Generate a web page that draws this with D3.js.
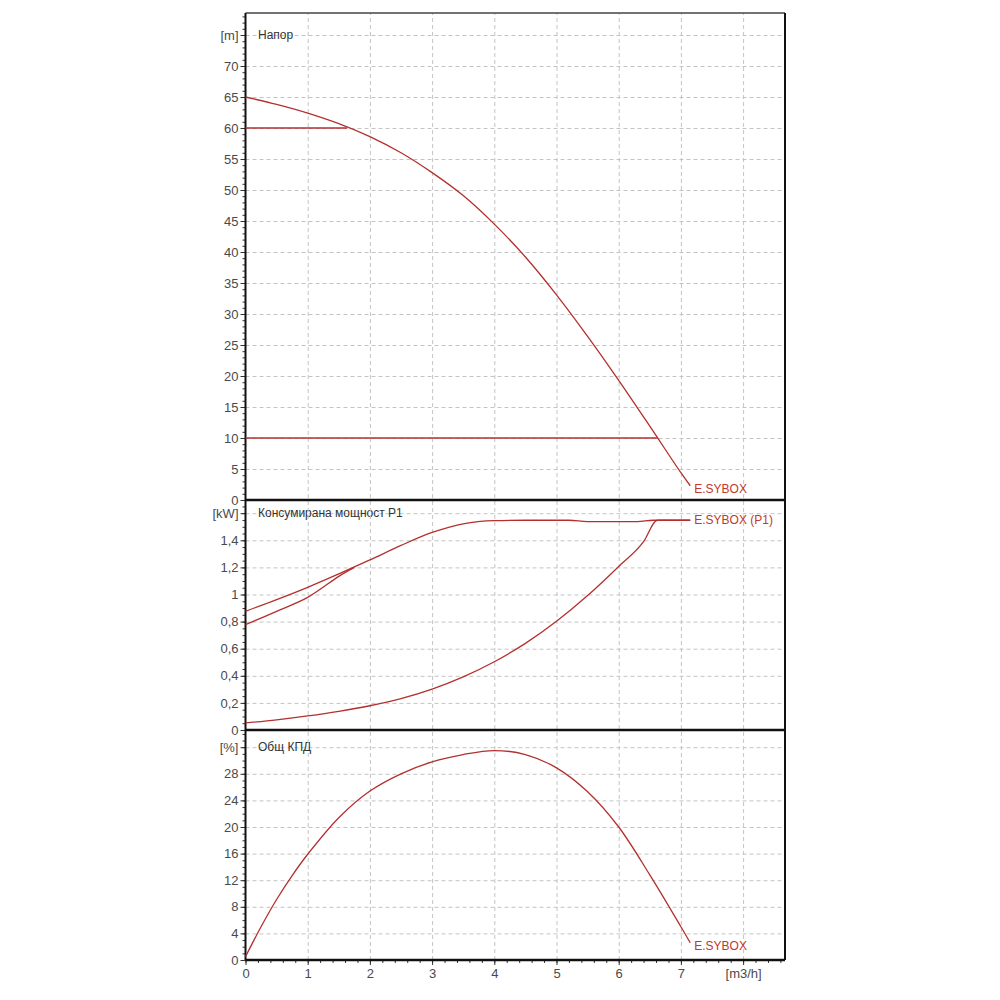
<!DOCTYPE html>
<html>
<head>
<meta charset="utf-8">
<script src="https://cdn.jsdelivr.net/npm/d3@7"></script>
<style>
  body { margin: 0; background: #fff; }
  svg text { font-family: "Liberation Sans", Arial, sans-serif; }
  .grid line { stroke: #c4c4c4; stroke-dasharray: 4 3; }
  .grid path { display: none; }
  .ax path { display: none; }
  .ax line { stroke: #333; }
  .ax text { fill: #4a4a4a; font-size: 13px; }
</style>
</head>
<body>
<svg id="vis" width="1000" height="1000"></svg>
<script>
// flow [m3/h]
var xTicks = [0, 1, 2, 3, 4, 5, 6, 7];

// head curve
var headQ = [0, 0.5, 1, 1.5, 2, 2.5, 3, 3.5, 4, 4.5, 5, 5.5, 6, 6.5, 7, 7.15];
var headH = [65, 63.8, 62.4, 60.7, 58.6, 56.0, 52.8, 49.1, 44.5, 39.2, 33.1, 26.4, 19.3, 11.9, 4.4, 2.3];
var headMaxLine = [[0, 60], [1.63, 60]];
var headMinLine = [[0, 10], [6.63, 10]];
var headTicks = [0, 5, 10, 15, 20, 25, 30, 35, 40, 45, 50, 55, 60, 65, 70];

// power P1
var powerMaxQ = [0, 0.5, 1, 1.5, 2, 2.5, 3, 3.5, 4, 4.5, 5, 5.2, 5.5, 6.3, 6.55, 7.15];
var powerMaxP = [0.876, 0.962, 1.053, 1.152, 1.255, 1.362, 1.458, 1.522, 1.545, 1.548, 1.548, 1.548, 1.538, 1.538, 1.548, 1.548];
var powerLimQ = [0, 0.5, 1, 1.5, 1.75];
var powerLimP = [0.777, 0.876, 0.979, 1.134, 1.2];
var powerMinQ = [0, 0.5, 1, 1.5, 2, 2.5, 3, 3.5, 4, 4.5, 5, 5.5, 6, 6.4, 6.62, 7.15];
var powerMinP = [0.052, 0.075, 0.104, 0.138, 0.179, 0.232, 0.302, 0.392, 0.504, 0.639, 0.802, 0.992, 1.207, 1.39, 1.548, 1.548];
var powerTicks = [0, 0.2, 0.4, 0.6, 0.8, 1, 1.2, 1.4];

// efficiency
var effQ = [0, 0.25, 0.5, 0.75, 1, 1.5, 2, 2.5, 3, 3.5, 4, 4.5, 5, 5.5, 6, 6.5, 7, 7.15];
var effE = [0.5, 5.0, 9.1, 12.7, 15.9, 21.4, 25.4, 28.0, 29.8, 30.9, 31.5, 30.9, 28.9, 25.3, 20.0, 12.8, 5.0, 2.6];
var effTicks = [0, 4, 8, 12, 16, 20, 24, 28];

var red = "#b3302f";
var svg = d3.select("#vis");
var plotLeft = 245.5, plotRight = 785, plotTop = 13, plotBottom = 960;

var x = d3.scaleLinear().domain([0, (plotRight - plotLeft) / 62.2]).range([plotLeft, plotRight]);

var panels = [
  { y0: 500, y1: plotTop, perUnit: 6.2, ticks: headTicks, minor: 1, unit: "[m]", unitAt: 75, title: "Напор", fmt: d3.format("d") },
  { y0: 730, y1: 500, perUnit: 135.5, ticks: powerTicks, minor: 0.05, unit: "[kW]", unitAt: 1.6, title: "Консумирана мощност P1",
    fmt: function(d) { return String(+d.toFixed(1)).replace(".", ","); } },
  { y0: plotBottom, y1: 730, perUnit: 6.65, ticks: effTicks, minor: 1, unit: "[%]", unitAt: 32, title: "Общ КПД", fmt: d3.format("d") }
];

panels.forEach(function(p) {
  p.y = d3.scaleLinear().domain([0, (p.y0 - p.y1) / p.perUnit]).range([p.y0, p.y1]);
  var w = plotRight - plotLeft;
  var gridVals = p.ticks.filter(function(d) { return d > 0; }).concat([p.unitAt]);

  svg.append("g").attr("class", "grid")
    .attr("transform", "translate(" + plotLeft + ",0)")
    .call(d3.axisLeft(p.y).tickValues(gridVals).tickSize(-w).tickFormat(""));

  var minors = d3.range(0, p.y.domain()[1], p.minor);
  svg.append("g").attr("class", "ax")
    .attr("transform", "translate(" + plotLeft + ",0)")
    .call(d3.axisLeft(p.y).tickValues(minors).tickSize(3).tickFormat(""));

  svg.append("g").attr("class", "ax")
    .attr("transform", "translate(" + plotLeft + ",0)")
    .call(d3.axisLeft(p.y).tickValues(p.ticks.concat([p.unitAt])).tickSize(5).tickPadding(2)
      .tickFormat(function(d) { return d === p.unitAt ? p.unit : p.fmt(d); }));

  svg.append("text")
    .attr("x", 258).attr("y", p.y(p.unitAt)).attr("dy", "0.35em")
    .attr("font-size", 12).attr("fill", "#333")
    .text(p.title);
});

// vertical grid over all panels
svg.append("g").attr("class", "grid")
  .attr("transform", "translate(0," + plotBottom + ")")
  .call(d3.axisBottom(x).tickValues([1, 2, 3, 4, 5, 6, 7, 8]).tickSize(-(plotBottom - plotTop)).tickFormat(""));

// x axis
svg.append("g").attr("class", "ax")
  .attr("transform", "translate(0," + plotBottom + ")")
  .call(d3.axisBottom(x).tickValues(d3.range(0, x.domain()[1], 0.2)).tickSize(3).tickFormat(""));
svg.append("g").attr("class", "ax")
  .attr("transform", "translate(0," + plotBottom + ")")
  .call(d3.axisBottom(x).tickValues(xTicks.concat([8])).tickSize(5).tickPadding(4)
    .tickFormat(function(d) { return d === 8 ? "[m3/h]" : d; }));

// frame
var frame = svg.append("g").attr("stroke", "#111").attr("fill", "none");
frame.append("line").attr("x1", plotLeft).attr("x2", plotRight).attr("y1", plotTop).attr("y2", plotTop).attr("stroke-width", 1.5).attr("stroke", "#444");
frame.append("line").attr("x1", plotRight).attr("x2", plotRight).attr("y1", plotTop).attr("y2", plotBottom).attr("stroke-width", 2);
frame.append("line").attr("x1", plotLeft).attr("x2", plotLeft).attr("y1", plotTop).attr("y2", plotBottom).attr("stroke-width", 2);
[500, 730, plotBottom].forEach(function(yy) {
  frame.append("line").attr("x1", plotLeft).attr("x2", plotRight).attr("y1", yy).attr("y2", yy).attr("stroke-width", 2.5);
});

// curves
function drawCurve(scaleY, qs, vs, curve) {
  var pts = qs.map(function(q, i) { return [q, vs[i]]; });
  svg.append("path")
    .datum(pts)
    .attr("fill", "none")
    .attr("stroke", red)
    .attr("stroke-width", 1.3)
    .attr("d", d3.line()
      .x(function(d) { return x(d[0]); })
      .y(function(d) { return scaleY(d[1]); })
      .curve(curve || d3.curveCatmullRom.alpha(0.5)));
}
function pair(arr) { return [arr.map(function(d) { return d[0]; }), arr.map(function(d) { return d[1]; })]; }

var yH = panels[0].y, yP = panels[1].y, yE = panels[2].y;
drawCurve(yH, headQ, headH);
drawCurve(yH, pair(headMaxLine)[0], pair(headMaxLine)[1], d3.curveLinear);
drawCurve(yH, pair(headMinLine)[0], pair(headMinLine)[1], d3.curveLinear);
drawCurve(yP, powerMaxQ, powerMaxP, d3.curveMonotoneX);
drawCurve(yP, powerLimQ, powerLimP);
drawCurve(yP, powerMinQ, powerMinP, d3.curveMonotoneX);
drawCurve(yE, effQ, effE);

// end labels
function endLabel(scaleY, q, v, txt) {
  svg.append("text")
    .attr("x", x(q) + 4).attr("y", scaleY(v) + 3).attr("dy", "0.35em")
    .attr("font-size", 12).attr("fill", "#c0392b")
    .text(txt);
}
endLabel(yH, headQ[headQ.length - 1], headH[headH.length - 1], "E.SYBOX");
endLabel(yP, powerMaxQ[powerMaxQ.length - 1], 1.548 + 0.022, "E.SYBOX (P1)");
endLabel(yE, effQ[effQ.length - 1], effE[effE.length - 1], "E.SYBOX");
</script>
</body>
</html>
